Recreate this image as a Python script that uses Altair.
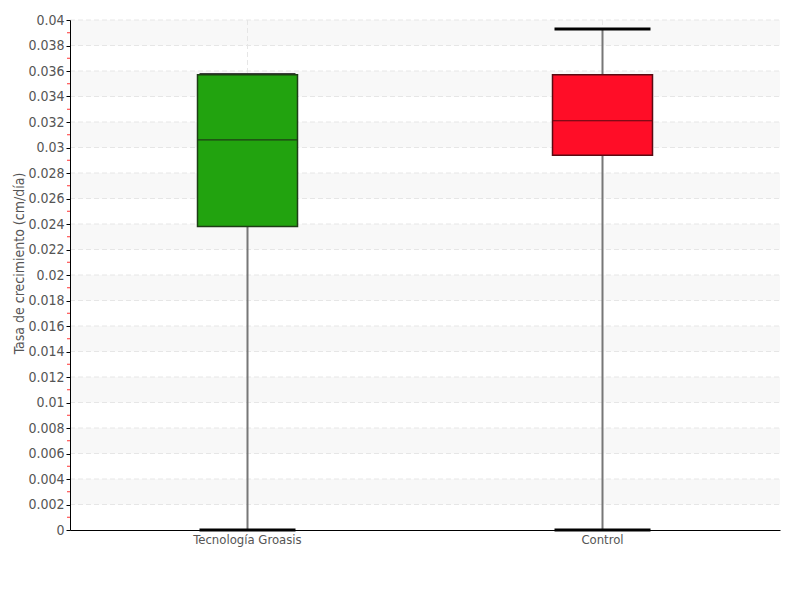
import altair as alt
import pandas as pd

categories = ["Tecnología Groasis", "Control"]
whisker_low = [0.0, 0.0]
q1 = [0.0238, 0.0294]
median = [0.0306, 0.0321]
q3 = [0.0357, 0.0357]
whisker_high = [0.0357, 0.0393]
colors = ["#22a30f", "#ff0d27"]
strokes = ["#1e3d16", "#5a0a12"]

major_ticks = [round(i * 0.002, 3) for i in range(21)]
minor_ticks = [round(0.001 + i * 0.002, 3) for i in range(20)]
stripe_starts = [round(0.002 + i * 0.004, 3) for i in range(10)]

FONT = "DejaVu Sans Condensed, Roboto, sans-serif"

df = pd.DataFrame({
    "cat": categories, "lo": whisker_low, "q1": q1, "med": median,
    "q3": q3, "hi": whisker_high, "color": colors, "stroke": strokes,
})
stripes = pd.DataFrame({"s": stripe_starts, "e": [round(v + 0.002, 3) for v in stripe_starts]})
minors = pd.DataFrame({"v": minor_ticks})
grid_df = pd.DataFrame({"v": major_ticks[1:]})
vgrid_df = pd.DataFrame({"cat": categories})

yscale = alt.Scale(domain=[0, 0.04], nice=False, zero=True)
xscale = alt.Scale(domain=categories, paddingInner=0, paddingOuter=0)

yaxis = alt.Axis(
    values=major_ticks, format="~g", title="Tasa de crecimiento (cm/día)",
    grid=False, labelOverlap=False, zindex=1,
    domainColor="#000", tickColor="#000", tickSize=4, labelPadding=2,
    labelFont=FONT, labelFontSize=14, labelColor="#555",
    titleFont=FONT, titleFontSize=14, titleColor="#555", titleFontWeight="normal",
    titlePadding=1, titleY=243,
)
xaxis = alt.Axis(
    title=None, ticks=False, grid=False, zindex=1,
    domainColor="#000", labelFont=FONT, labelFontSize=13, labelColor="#555",
    labelAngle=0, labelPadding=3,
)


def Y(field):
    return alt.Y(field, scale=yscale, axis=None)


def X():
    return alt.X("cat:N", scale=xscale, axis=None, sort=categories)


stripe_layer = alt.Chart(stripes).mark_rect(color="#f8f8f8").encode(
    y=alt.Y("s:Q", scale=yscale, axis=yaxis), y2="e:Q", x=alt.value(0), x2=alt.value(710),
)
hgrid = alt.Chart(grid_df).mark_rule(color="#e6e6e6", strokeDash=[5, 3]).encode(
    y=Y("v:Q"), x=alt.value(0), x2=alt.value(710))
vgrid = alt.Chart(vgrid_df).mark_rule(color="#e6e6e6", strokeDash=[5, 3]).encode(
    x=alt.X("cat:N", scale=xscale, axis=xaxis, sort=categories),
    y=alt.value(0), y2=alt.value(510))

base = alt.Chart(df).encode(x=X())

whisk = base.mark_rule(color="#777", strokeWidth=2).encode(y=Y("lo:Q"), y2="hi:Q")
cap_lo = base.mark_tick(color="#000", size=96, thickness=3, opacity=1).encode(y=Y("lo:Q"))
cap_hi = base.mark_tick(color="#000", size=96, thickness=3, opacity=1).encode(y=Y("hi:Q"))
box = base.mark_bar(size=100, strokeWidth=1.5, opacity=1).encode(
    y=Y("q1:Q"), y2="q3:Q",
    color=alt.Color("color:N", scale=None),
    stroke=alt.Stroke("stroke:N", scale=None),
)
med = base.mark_tick(size=100, thickness=1.2, opacity=1).encode(
    y=Y("med:Q"), color=alt.Color("stroke:N", scale=None),
)
minor_layer = alt.Chart(minors).mark_rule(color="#ff3333", strokeWidth=1).encode(
    y=Y("v:Q"), x=alt.value(-3), x2=alt.value(0))

chart = alt.layer(
    stripe_layer, hgrid, vgrid, whisk, cap_lo, cap_hi, box, med, minor_layer
).resolve_axis(x="independent", y="independent").properties(
    width=710, height=510,
    autosize=alt.AutoSizeParams(type="none"),
    padding={"left": 62, "top": 12, "right": 12, "bottom": 62},
).configure_view(stroke=None)

chart.save("out.html", embed_options={"renderer": "svg", "actions": False})
